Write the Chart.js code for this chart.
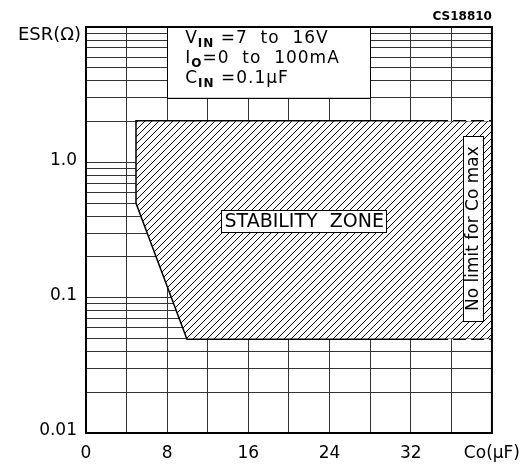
<!DOCTYPE html>
<html>
<head>
<meta charset="utf-8">
<script src="https://cdn.jsdelivr.net/npm/chart.js@4.4.1/dist/chart.umd.min.js"></script>
<style>
  html, body { margin: 0; padding: 0; background: #fff; }
  #wrap { width: 530px; height: 468px; }
</style>
</head>
<body>
<div id="wrap"><canvas id="esrChart"></canvas></div>
<script>
// stability zone (Co in uF, ESR in ohm)
const zoneCo  = [5, 40, 40, 10, 5];
const zoneEsr = [2, 2, 0.05, 0.05, 0.5];

// solid boundary of the zone
const edgeCo  = [34.4, 5, 5, 10, 34.4];
const edgeEsr = [2, 2, 0.5, 0.05, 0.05];

// dashed part, no limit for Co max
const openTopCo  = [34.4, 40];
const openTopEsr = [2, 2];
const openBotCo  = [34.4, 40];
const openBotEsr = [0.05, 0.05];

// axes
const xTicks  = [0, 4, 8, 12, 16, 20, 24, 28, 32, 36, 40];
const xLabels = ['0', '', '8', '', '16', '', '24', '', '32', '', 'Co(μF)'];
const yTicks  = [0.01, 0.02, 0.03, 0.04, 0.05, 0.06, 0.07, 0.08, 0.09,
                 0.1, 0.2, 0.3, 0.4, 0.5, 0.6, 0.7, 0.8, 0.9,
                 1, 2, 3, 4, 5, 6, 7, 8, 9, 10];
const yLabelVals = [0.01, 0.1, 1];
const yLabelTxt  = ['0.01', '0.1', '1.0'];

const FONT = 'DejaVu Sans';
Chart.defaults.font.family = FONT;
Chart.defaults.color = '#000';

function pts(xs, ys) {
    return xs.map((x, i) => ({ x: x, y: ys[i] }));
}

// white background with "/" hatching
const hatch = (function () {
    const c = document.createElement('canvas');
    c.width = 7; c.height = 7;
    const g = c.getContext('2d');
    g.fillStyle = '#fff';
    g.fillRect(0, 0, 7, 7);
    g.strokeStyle = '#000';
    g.lineWidth = 1;
    g.beginPath();
    g.moveTo(-1, 8); g.lineTo(8, -1);
    g.moveTo(-1, 1); g.lineTo(1, -1);
    g.moveTo(6, 8); g.lineTo(8, 6);
    g.stroke();
    return g.createPattern(c, 'repeat');
})();

function drawRich(ctx, x, y, parts) {
    parts.forEach(p => {
        ctx.font = p.sub ? 'bold 12px ' + FONT : '17px ' + FONT;
        ctx.fillText(p.t, x, y + (p.sub ? 4 : 0));
        x += ctx.measureText(p.t).width;
    });
}

const annotations = {
    id: 'annotations',
    beforeDatasetsDraw(chart) {
        const { ctx, scales: { x, y } } = chart;
        // conditions box (covers the grid)
        const l = x.getPixelForValue(8), r = x.getPixelForValue(28);
        const t = y.getPixelForValue(10), b = y.getPixelForValue(3);
        ctx.save();
        ctx.fillStyle = '#fff';
        ctx.fillRect(l, t, r - l, b - t);
        ctx.strokeStyle = '#000';
        ctx.lineWidth = 1;
        ctx.strokeRect(Math.round(l) + 0.5, Math.round(t) + 0.5, Math.round(r - l), Math.round(b - t));
        ctx.fillStyle = '#000';
        ctx.textBaseline = 'alphabetic';
        ctx.letterSpacing = '1px';
        drawRich(ctx, l + 18, t + 16, [{ t: 'V' }, { t: 'IN', sub: 1 }, { t: ' =7  to  16V' }]);
        drawRich(ctx, l + 18, t + 36, [{ t: 'I' }, { t: 'O', sub: 1 }, { t: '=0  to  100mA' }]);
        drawRich(ctx, l + 18, t + 56, [{ t: 'C' }, { t: 'IN', sub: 1 }, { t: ' =0.1μF' }]);
        ctx.restore();
    },
    afterDatasetsDraw(chart) {
        const { ctx, chartArea: a, scales: { x, y } } = chart;
        ctx.save();
        ctx.lineWidth = 1;
        ctx.strokeStyle = '#000';

        // STABILITY ZONE label
        ctx.font = '19px ' + FONT;
        ctx.textAlign = 'center';
        ctx.textBaseline = 'middle';
        let cx = x.getPixelForValue(21.5), cy = y.getPixelForValue(0.366);
        let w = ctx.measureText('STABILITY  ZONE').width + 6;
        ctx.fillStyle = '#fff';
        ctx.fillRect(cx - w / 2, cy - 11, w, 22);
        ctx.strokeRect(Math.round(cx - w / 2) + 0.5, Math.round(cy - 11) + 0.5, Math.round(w), 22);
        ctx.fillStyle = '#000';
        ctx.fillText('STABILITY  ZONE', cx, cy + 1);

        // No limit for Co max (vertical)
        ctx.font = '17px ' + FONT;
        cx = x.getPixelForValue(38.1);
        cy = y.getPixelForValue(0.324);
        w = ctx.measureText('No limit for Co max').width + 20;
        ctx.fillStyle = '#fff';
        ctx.fillRect(cx - 10, cy - w / 2, 20, w);
        ctx.strokeRect(Math.round(cx - 10) + 0.5, Math.round(cy - w / 2) + 0.5, 20, Math.round(w));
        ctx.translate(cx, cy);
        ctx.rotate(-Math.PI / 2);
        ctx.fillStyle = '#000';
        ctx.fillText('No limit for Co max', 0, 1);
        ctx.restore();

        // plot frame
        ctx.save();
        ctx.strokeStyle = '#000';
        ctx.lineWidth = 2;
        ctx.strokeRect(a.left, a.top, a.right - a.left, a.bottom - a.top);

        // axis title and figure code
        ctx.fillStyle = '#000';
        ctx.font = '18px ' + FONT;
        ctx.textAlign = 'right';
        ctx.textBaseline = 'middle';
        ctx.fillText('ESR(Ω)', a.left - 5, y.getPixelForValue(10) + 8);
        ctx.font = 'bold 12px ' + FONT;
        ctx.fillText('CS18810', a.right, a.top - 10);
        ctx.restore();
    }
};

const lineStyle = {
    showLine: true,
    fill: false,
    borderColor: '#000',
    borderWidth: 3,
    borderJoinStyle: 'miter',
    pointRadius: 0
};

new Chart(document.getElementById('esrChart'), {
    type: 'scatter',
    data: {
        datasets: [
            { data: pts(zoneCo, zoneEsr), showLine: true, fill: 'shape', backgroundColor: hatch,
              borderColor: 'rgba(0,0,0,0)', borderWidth: 1, pointRadius: 0 },
            Object.assign({ data: pts(edgeCo, edgeEsr) }, lineStyle),
            Object.assign({ data: pts(openTopCo, openTopEsr), borderDash: [13, 5] }, lineStyle),
            Object.assign({ data: pts(openBotCo, openBotEsr), borderDash: [13, 5] }, lineStyle)
        ]
    },
    options: {
        responsive: true,
        maintainAspectRatio: false,
        animation: false,
        layout: { padding: { top: 27, right: 38, left: 0, bottom: 0 } },
        plugins: { legend: { display: false }, tooltip: { enabled: false } },
        scales: {
            x: {
                type: 'linear',
                min: 0,
                max: 40,
                afterBuildTicks: s => { s.ticks = xTicks.map(v => ({ value: v })); },
                afterFit: s => { s.height = 35; },
                grid: { color: '#333', lineWidth: 1, drawTicks: false },
                border: { display: false },
                ticks: {
                    autoSkip: false,
                    maxRotation: 0,
                    padding: 10,
                    font: { size: 17 },
                    callback: v => xLabels[xTicks.indexOf(v)]
                }
            },
            y: {
                type: 'logarithmic',
                min: 0.01,
                max: 10,
                afterBuildTicks: s => { s.ticks = yTicks.map(v => ({ value: v })); },
                afterFit: s => { s.width = 86; },
                grid: { color: '#333', lineWidth: 1, drawTicks: false },
                border: { display: false },
                ticks: {
                    autoSkip: false,
                    padding: 9,
                    labelOffset: -2,
                    font: { size: 17 },
                    callback: v => {
                        const i = yLabelVals.indexOf(v);
                        return i < 0 ? '' : yLabelTxt[i];
                    }
                }
            }
        }
    },
    plugins: [annotations]
});
</script>
</body>
</html>
